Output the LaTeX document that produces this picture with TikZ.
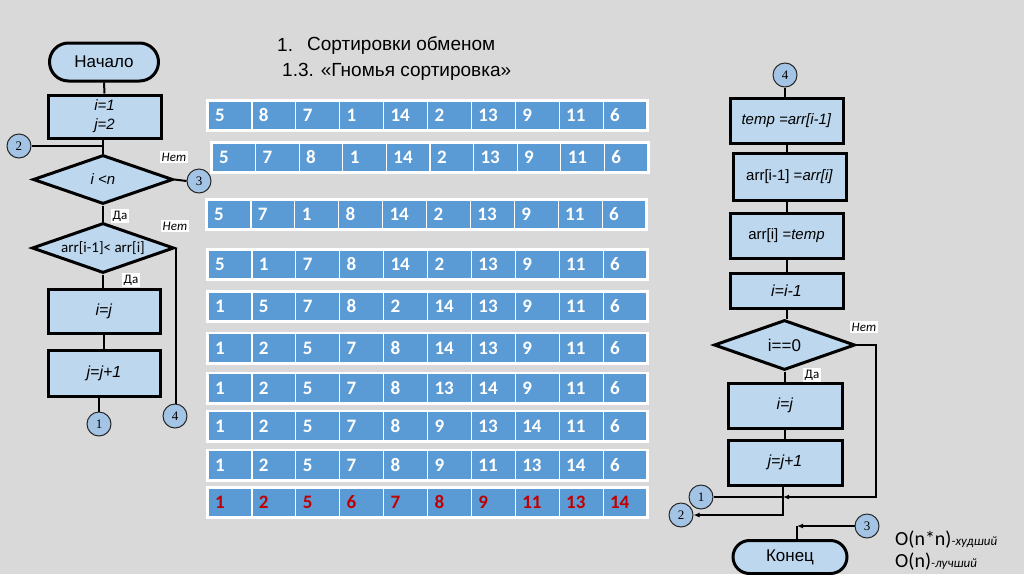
\documentclass[tikz,border=0pt]{standalone}
\usepackage{fontspec}
\setmainfont{Liberation Sans}
\newfontfamily\calib{Carlito}
\newfontfamily\tms{Liberation Serif}
\usetikzlibrary{shapes.geometric,shapes.misc,arrows.meta}
\definecolor{bgc}{HTML}{D9D9D9}
\definecolor{cellblue}{HTML}{5B9BD5}
\definecolor{boxfill}{HTML}{BDD7EE}
\definecolor{circfill}{HTML}{A4C4E6}
\definecolor{redtxt}{HTML}{C00000}
\begin{document}
\begin{tikzpicture}[x=1pt,y=-1pt,
  box/.style={rectangle, draw=black, line width=3pt, fill=boxfill, inner sep=0pt, align=center, font=\fontsize{15}{19}\selectfont},
  term/.style={rounded rectangle, draw=black, line width=3pt, fill=boxfill, inner sep=0pt, font=\fontsize{17}{17}\selectfont},
  dec/.style={diamond, draw=black, line width=3pt, fill=boxfill, inner sep=0pt, shape aspect=2.8, font=\fontsize{15}{15}\selectfont},
  conn/.style={circle, draw=black!85, line width=1pt, fill=circfill, minimum size=24pt, inner sep=0pt, font=\tms\fontsize{13}{13}\selectfont},
  lbl/.style={fill=white, inner sep=1.5pt, font=\calib\fontsize{13}{14}\selectfont},
  flow/.style={line width=2pt},
  arr/.style={flow, -{Latex[length=6pt,width=5pt]}},
  cell/.style={rectangle, fill=cellblue, draw=white, line width=1.2pt, minimum height=29pt, text width=30pt, text height=12pt, text depth=0pt, inner xsep=7pt, inner ysep=0pt, align=left, font=\calib\bfseries\fontsize{19}{19}\selectfont},
  ttl/.style={anchor=west, inner sep=0pt, font=\fontsize{19}{19}\selectfont}
]
\fill[bgc] (0,0) rectangle (1024,574);
\useasboundingbox (0,0) rectangle (1024,574);

% ---------- title ----------
\node[ttl] (t1n) at (277,45) {1.};
\node[ttl] (t1) at (307,45) {Сортировки обменом};
\node[ttl] (t2) at (282,72) {1.3. «Гномья сортировка»};

% ---------- table ----------
\foreach \yy/\xx/\ww/\vals/\col [count=\r] in {
  115.5/208/43.9/{5,8,7,1,14,2,13,9,11,6}/white,
  157.5/212/43.6/{5,7,8,1,14,2,13,9,11,6}/white,
  214.5/207/43.9/{5,7,1,8,14,2,13,9,11,6}/white,
  264.5/208/43.9/{5,1,7,8,14,2,13,9,11,6}/white,
  306.5/208/43.9/{1,5,7,8,2,14,13,9,11,6}/white,
  348/208/43.9/{1,2,5,7,8,14,13,9,11,6}/white,
  388/208/43.9/{1,2,5,7,8,13,14,9,11,6}/white,
  426/208/43.9/{1,2,5,7,8,9,13,14,11,6}/white,
  465/208/43.9/{1,2,5,7,8,9,11,13,14,6}/white,
  502.5/208/43.9/{1,2,5,6,7,8,9,11,13,14}/redtxt}{
  \fill[white] (\xx-2,\yy-16.5) rectangle (\xx+10*\ww+2,\yy+16.5);
  \foreach \v [count=\c] in \vals {
    \node[cell, text=\col, minimum width=\ww pt, text width=\ww pt-14pt] (cell-\r-\c) at (\xx+\c*\ww-0.5*\ww,\yy) {\v};
  }
}

% ---------- left flowchart ----------
\node[term, minimum width=109pt, minimum height=38pt] (start) at (104,62) {Начало};
\node[box, minimum width=113pt, minimum height=43pt] (b1) at (104.5,116.5) {\textit{i=1}\\\textit{j=2}};
\node[dec, minimum width=140pt, minimum height=49pt] (d1) at (103,179.5) {\textit{i <n}};
\node[dec, minimum width=142pt, minimum height=50pt] (d2) at (103,248) {\calib arr[i-1]< arr[i]};
\node[box, minimum width=112pt, minimum height=44pt, font=\fontsize{16}{16}\selectfont] (b2) at (104,311) {\textit{i=j}};
\node[box, minimum width=112pt, minimum height=46pt, font=\fontsize{16}{16}\selectfont] (b3) at (104,373) {\textit{j=j+1}};
\node[conn] (c2) at (19,146) {2};
\node[conn] (c3) at (199,181) {3};
\node[conn] (c1) at (99,424) {1};
\node[conn] (c4) at (175,416) {4};

\draw[flow] (start.south) -- (b1.north);
\draw[flow] (d1.north |- b1.south) -- (d1.north);
\draw[flow] (c2.east) -- (c2 -| d1.north);
\draw[flow] (d1.east) -- (c3.west);
\draw[flow] (d1.south) -- (d2.north);
\draw[flow] (d2.east) -- (d2.east |- c4.north);
\draw[flow] (d2.south) -- (d2.south |- b2.north);
\draw[flow] (b2.south) -- (b3.north);
\draw[flow] (c1.north |- b3.south) -- (c1.north);

\node[lbl, font=\calib\itshape\fontsize{13}{14}\selectfont] (n1) at (174,157) {Нет};
\node[lbl] (y1) at (120,216) {Да};
\node[lbl, font=\calib\itshape\fontsize{13}{14}\selectfont] (n2) at (175,226) {Нет};
\node[lbl] (y2) at (131,280) {Да};

% ---------- right flowchart ----------
\node[conn] (c4r) at (785,75) {4};
\node[box, minimum width=113pt, minimum height=45pt] (r1) at (786.5,120.5) {\textit{temp =arr[i-1]}};
\node[box, minimum width=113pt, minimum height=47pt] (r2) at (789.5,176.5) {arr[i-1] =\textit{arr[i]}};
\node[box, minimum width=113pt, minimum height=45pt] (r3) at (786.5,235.5) {arr[i] =\textit{temp}};
\node[box, minimum width=113pt, minimum height=35pt, font=\fontsize{16}{16}\selectfont] (r4) at (786.5,290.5) {\textit{i=i-1}};
\node[dec, minimum width=141pt, minimum height=50pt, font=\fontsize{17}{17}\selectfont] (rd) at (784.5,345) {i==0};
\node[box, minimum width=114pt, minimum height=45pt, font=\fontsize{16}{16}\selectfont] (r5) at (785,405.5) {\textit{i=j}};
\node[box, minimum width=114pt, minimum height=45pt, font=\fontsize{16}{16}\selectfont] (r6) at (785,462.5) {\textit{j=j+1}};
\node[term, minimum width=114pt, minimum height=33pt] (fin) at (790,557) {Конец};
\node[conn] (c1r) at (701,497) {1};
\node[conn] (c2r) at (681,515) {2};
\node[conn] (c3r) at (867,526) {3};
\coordinate (m1) at (783,497);
\coordinate (k3) at (797,526);
\coordinate (nr) at (876,345);

\draw[flow] (c4r.south) -- (c4r.south |- r1.north);
\draw[flow] (r1.south) -- (r1.south |- r2.north);
\draw[flow] (r3.north) -- (r3.north |- r2.south);
\draw[flow] (r3.south) -- (r3.south |- r4.north);
\draw[flow] (r4.south) -- (r4.south |- rd.north);
\draw[flow] (rd.south) -- (rd.south |- r5.north);
\draw[flow] (r5.south) -- (r5.south |- r6.north);
\draw[arr] (rd.east) -- (nr) -- (nr |- m1) -- (m1);
\draw[flow] (c1r.east) -- (m1);
\draw[arr] (m1 |- r6.south) -- (m1 |- c2r) -- (c2r.east);
\draw[arr] (c3r.west) -- (k3);
\draw[flow] (k3) -- (k3 |- fin.north);

\node[lbl, font=\calib\itshape\fontsize{13}{14}\selectfont] (n3) at (864,327) {Нет};
\node[lbl] (y3) at (812,375) {Да};

% ---------- complexity ----------
\node[anchor=west, inner sep=0pt] (o1) at (895,540) {\calib\fontsize{20}{20}\selectfont O(n*n)\itshape\fontsize{13}{13}\selectfont -худший};
\node[anchor=west, inner sep=0pt] (o2) at (895,562) {\calib\fontsize{20}{20}\selectfont O(n)\itshape\fontsize{13}{13}\selectfont -лучший};
\end{tikzpicture}
\end{document}
